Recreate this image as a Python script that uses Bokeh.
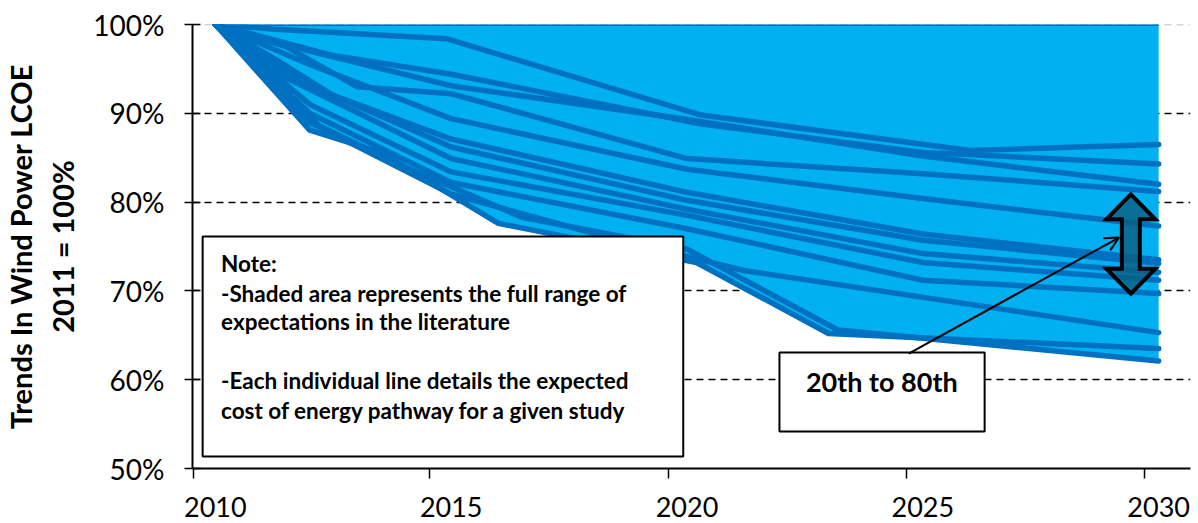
import numpy as np
from bokeh.plotting import figure
from bokeh.models import (Range1d, FixedTicker, LinearAxis, PrintfTickFormatter,
                          CustomJSTickFormatter, BoxAnnotation, Label, Arrow, OpenHead, Span)
from bokeh.embed import file_html
from bokeh.resources import INLINE

# ---- data: LCOE pathway per study (2011 = 100%) ----
s01_x = [2010, 2011.2, 2014.9, 2020.3, 2026.0, 2030]
s01_y = [100, 99.5, 98.4, 89.8, 85.8, 86.5]
s02_x = [2010, 2012.5, 2015, 2020.3, 2025, 2030]
s02_y = [100, 96.5, 94.4, 88.8, 85.6, 84.3]
s03_x = [2010, 2012, 2015, 2020, 2025, 2030]
s03_y = [100, 97.0, 93.1, 89.3, 85.2, 82.0]
s04_x = [2010, 2011.5, 2013, 2015, 2020, 2025, 2030]
s04_y = [100, 97.5, 93.0, 92.2, 84.9, 83.2, 81.2]
s05_x = [2010, 2012, 2015, 2020, 2025, 2030]
s05_y = [100, 95.5, 89.4, 83.7, 80.4, 77.3]
s06_x = [2010, 2012, 2015, 2020, 2025, 2030]
s06_y = [100, 93.0, 87.1, 81.1, 76.4, 73.5]
s07_x = [2010, 2011.3, 2012.5, 2015, 2020, 2025, 2030]
s07_y = [100, 96.0, 92.0, 86.2, 80.2, 75.7, 73.1]
s08_x = [2010, 2011.5, 2015, 2020, 2025, 2030]
s08_y = [100, 94.0, 84.9, 79.2, 74.2, 72.1]
s09_x = [2010, 2012, 2015, 2020, 2025, 2030]
s09_y = [100, 91.0, 83.4, 78.5, 73.2, 71.2]
s10_x = [2010, 2012, 2015, 2020, 2025, 2030]
s10_y = [100, 90.0, 82.2, 77.0, 71.2, 69.7]
s11_x = [2010, 2012, 2015, 2018, 2021.2, 2030]
s11_y = [100, 89.0, 80.9, 76.5, 72.3, 65.3]
s12_x = [2010, 2012, 2013.5, 2016, 2020.2, 2023, 2030]
s12_y = [100, 88.1, 85.6, 77.6, 73.2, 65.2, 63.5]
s13_x = [2010, 2012.2, 2014, 2016.5, 2020, 2023.2, 2030]
s13_y = [100, 88.6, 84.0, 78.3, 74.7, 65.6, 62.1]

studies = [(s01_x, s01_y), (s02_x, s02_y), (s03_x, s03_y), (s04_x, s04_y),
           (s05_x, s05_y), (s06_x, s06_y), (s07_x, s07_y), (s08_x, s08_y),
           (s09_x, s09_y), (s10_x, s10_y), (s11_x, s11_y), (s12_x, s12_y),
           (s13_x, s13_y)]

range_20_80 = [69.7, 80.86]          # 20th–80th percentile band in 2030

y_ticks = [50, 60, 70, 80, 90, 100]
x_label_years = [2010, 2015, 2020, 2025, 2030]
x_tick_marks = [2009.53, 2014.55, 2019.6, 2024.65, 2029.7]

note_lines = ["Note:",
              "-Shaded area represents the full range of",
              "expectations in the literature",
              "-Each individual line details the expected",
              "cost  of energy pathway  for a given study"]

FILL = "#00B0F0"
LINE = "#0070C0"
FONT = "Lato"

# ---- envelope ----
grid_x = np.linspace(2010, 2030, 801)
interp = np.array([np.interp(grid_x, sx, sy) for sx, sy in studies])
lower = interp.min(axis=0)
upper = np.maximum(interp.max(axis=0), 100)

p = figure(width=1198, height=523, x_range=Range1d(2009.515, 2030.675),
           y_range=Range1d(50, 100), output_backend="svg", toolbar_location=None,
           min_border_left=187, min_border_right=8, min_border_top=24,
           min_border_bottom=55)
p.outline_line_color = None

# grid
p.xgrid.visible = False
p.ygrid.ticker = FixedTicker(ticks=[60, 70, 80, 90])
p.ygrid.grid_line_color = "black"
p.ygrid.grid_line_dash = "7 5"
p.ygrid.grid_line_width = 1.5
p.add_layout(Span(location=100, dimension="width", line_color="#aaaaaa",
                  line_dash="7 5", line_width=1.5, level="underlay"))

# area and lines
p.varea(x=grid_x, y1=lower, y2=upper, fill_color=FILL)
p.line(grid_x, upper, line_color=LINE, line_width=3)
for sx, sy in studies:
    p.line(sx, sy, line_color=LINE, line_width=5.5, line_cap="round", line_join="round")

# y axis
p.yaxis.ticker = FixedTicker(ticks=y_ticks)
p.yaxis.formatter = PrintfTickFormatter(format="%d%%")
p.yaxis.major_tick_in = 8
p.yaxis.major_tick_out = 8
p.yaxis.minor_tick_line_color = None
p.yaxis.axis_line_width = 2
p.yaxis.major_tick_line_width = 1.5
p.yaxis.major_label_text_font = FONT
p.yaxis.major_label_text_font_size = "28px"
p.yaxis.major_label_text_color = "black"
p.yaxis.major_label_standoff = 20
p.yaxis.axis_label = "Trends In Wind Power LCOE\n2011 = 100%"
p.yaxis.axis_label_text_font = FONT
p.yaxis.axis_label_text_font_size = "29px"
p.yaxis.axis_label_text_font_style = "bold"
p.yaxis.axis_label_text_color = "black"
p.yaxis.axis_label_text_line_height = 1.2
p.yaxis.axis_label_standoff = 10

# x axis: tick marks between categories
p.xaxis.ticker = FixedTicker(ticks=x_tick_marks)
p.xaxis.formatter = CustomJSTickFormatter(code="return ''")
p.xaxis.major_tick_in = 0
p.xaxis.major_tick_out = 10
p.xaxis.minor_tick_line_color = None
p.xaxis.axis_line_width = 2
p.xaxis.major_tick_line_width = 1.5
p.xaxis.major_label_standoff = 0

# x axis: year labels
lab_axis = LinearAxis(ticker=FixedTicker(ticks=x_label_years),
                      formatter=PrintfTickFormatter(format="%d"),
                      axis_line_color=None, major_tick_line_color=None,
                      minor_tick_line_color=None, major_label_standoff=12,
                      major_label_text_font=FONT, major_label_text_font_size="27px",
                      major_label_text_color="black")
p.add_layout(lab_axis, "below")

# double arrow (20th to 80th)
cx, sh, hh, hl = 2029.41, 0.19, 0.52, 2.8
bot, top = range_20_80
ax = [cx, cx + hh, cx + sh, cx + sh, cx + hh, cx, cx - hh, cx - sh, cx - sh, cx - hh]
ay = [top, top - hl, top - hl, bot + hl, bot + hl, bot, bot + hl, bot + hl, top - hl, top - hl]
p.patch(ax, ay, fill_color="#0B5F7F", fill_alpha=0.8, line_color="black",
        line_width=4, line_join="miter")

# note box
p.add_layout(BoxAnnotation(left=2009.73, right=2019.92, top=76.13, bottom=51.35,
                           fill_color="white", fill_alpha=1, line_color="black",
                           line_width=2, line_alpha=1))
note_y = [73.09, 69.71, 66.55, 59.91, 56.53]
for txt, yy in zip(note_lines, note_y):
    p.add_layout(Label(x=2010.12, y=yy, text=txt, text_font=FONT, text_font_size="22.5px",
                       text_font_style="bold", text_baseline="middle", text_align="left",
                       text_color="black"))

# 20th to 80th box + arrow
p.add_layout(BoxAnnotation(left=2021.96, right=2026.31, top=63.06, bottom=54.17,
                           fill_color="white", fill_alpha=1, line_color="black",
                           line_width=2, line_alpha=1))
p.add_layout(Label(x=2024.13, y=59.8, text="20th to 80th", text_font=FONT,
                   text_font_size="27px", text_font_style="bold", text_baseline="middle",
                   text_align="center", text_color="black"))
p.add_layout(Arrow(end=OpenHead(size=14, line_width=2, line_color="black"),
                   x_start=2024.70, y_start=62.95, x_end=2029.16, y_end=76.01,
                   line_width=2, line_color="black"))

open("out.html", "w").write(file_html(p, INLINE))
